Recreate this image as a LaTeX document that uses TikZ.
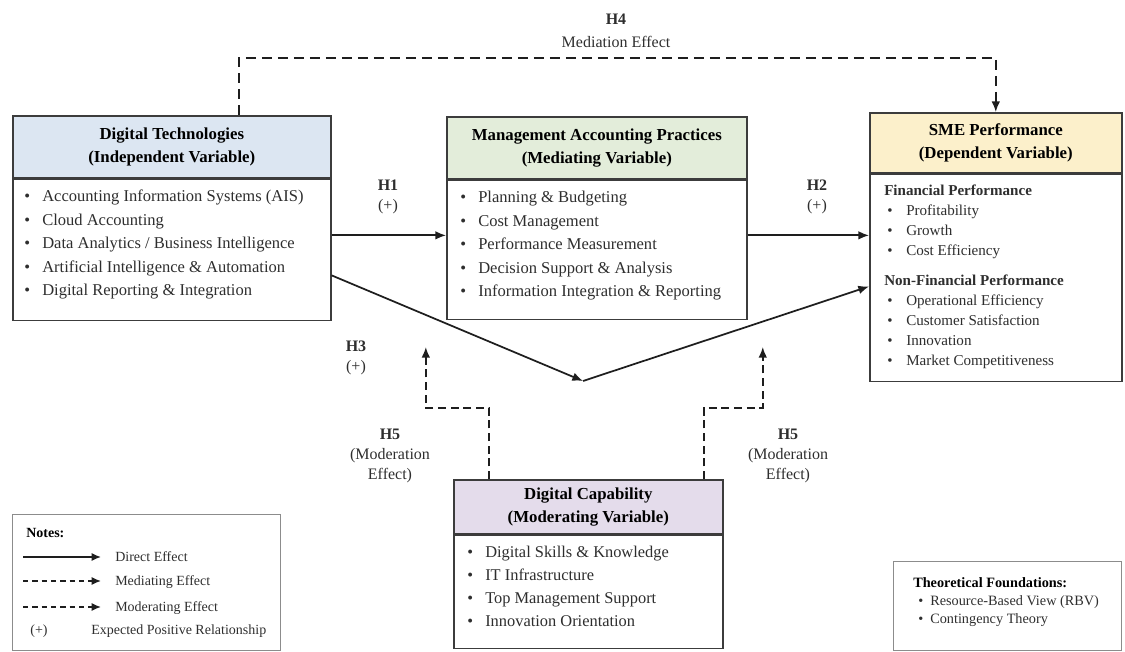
\documentclass[tikz,border=0pt]{standalone}
\usepackage{fontspec}
\setmainfont{Liberation Serif}
\usetikzlibrary{arrows.meta,calc}
\definecolor{bd}{HTML}{3C3C3C}
\definecolor{lbd}{HTML}{8C8C8C}
\definecolor{txt}{HTML}{2E2E2E}
\definecolor{ar}{HTML}{1E1E1E}
\definecolor{cblue}{HTML}{DCE6F2}
\definecolor{cgreen}{HTML}{E3EDDA}
\definecolor{cyellow}{HTML}{FCF0CB}
\definecolor{cpurple}{HTML}{E4DCEB}
\newcommand\itm[1]{\makebox[13.5pt][l]{\textbullet}#1}
\newcommand\sitm[1]{\hspace{2.25pt}\makebox[14.25pt][l]{\textbullet}#1}
\newcommand\titm[1]{\hspace{3.75pt}\makebox[9pt][l]{\textbullet}#1}
\begin{document}
\begin{tikzpicture}[x=0.75pt,y=-0.75pt,
  hdr/.style={draw=bd, line width=1.2pt, anchor=north west, inner sep=0, align=center,
    text=black, font=\bfseries\fontsize{12.6}{17.5}\selectfont},
  bodybox/.style={draw=bd, line width=1.2pt, anchor=north west, inner sep=0, fill=white},
  lst/.style={anchor=base west, inner sep=0, text=txt},
  notebox/.style={draw=lbd, line width=0.8pt, anchor=north west, inner sep=0},
  arr/.style={line width=1.3pt, draw=ar, -{Latex[length=8pt,width=6.5pt]}},
  medarr/.style={arr, dash pattern=on 7.5pt off 4.5pt},
  modarr/.style={arr, dash pattern=on 6pt off 3.5pt},
  larr/.style={line width=1.1pt, draw=ar, -{Latex[length=7pt,width=6pt]}},
  ldarr/.style={larr, dash pattern=on 4pt off 3pt},
  lbl/.style={align=center, text=txt, font=\fontsize{12}{15}\selectfont},
  ntxt/.style={anchor=base west, inner sep=0, text=txt, font=\fontsize{10.5}{13}\selectfont}
]
\useasboundingbox (0,0) rectangle (1125,652);

% ---------- Digital Technologies ----------
\node[hdr, fill=cblue, minimum width=238.5pt, minimum height=46.5pt] (dth) at (12,115)
  {Digital Technologies\\(Independent Variable)};
\node[bodybox, minimum width=238.5pt, minimum height=105.75pt] (dtb) at (dth.south west) {};
\node[lst] (dtl) at (24,202) {\fontsize{12.4}{17.6}\selectfont\begin{tabular}[t]{@{}l@{}}
\itm{Accounting Information Systems (AIS)}\\
\itm{Cloud Accounting}\\
\itm{Data Analytics / Business Intelligence}\\
\itm{Artificial Intelligence \& Automation}\\
\itm{Digital Reporting \& Integration}
\end{tabular}};

% ---------- Management Accounting Practices ----------
\node[hdr, fill=cgreen, minimum width=225pt, minimum height=46.5pt] (maph) at (446,116)
  {Management Accounting Practices\\(Mediating Variable)};
\node[bodybox, minimum width=225pt, minimum height=104.25pt] (mapb) at (maph.south west) {};
\node[lst] (mapl) at (460,203) {\fontsize{12.4}{17.6}\selectfont\begin{tabular}[t]{@{}l@{}}
\itm{Planning \& Budgeting}\\
\itm{Cost Management}\\
\itm{Performance Measurement}\\
\itm{Decision Support \& Analysis}\\
\itm{Information Integration \& Reporting}
\end{tabular}};

% ---------- SME Performance ----------
\node[hdr, fill=cyellow, minimum width=189pt, minimum height=45pt] (smeh) at (869,112)
  {SME Performance\\(Dependent Variable)};
\node[bodybox, minimum width=189pt, minimum height=155.25pt] (smeb) at (smeh.south west) {};
\node[lst] (smef) at (884,196) {\fontsize{11.3}{15}\selectfont\begin{tabular}[t]{@{}l@{}}
\textbf{Financial Performance}\\
\sitm{Profitability}\\
\sitm{Growth}\\
\sitm{Cost Efficiency}
\end{tabular}};
\node[lst] (smen) at (884,286) {\fontsize{11.3}{15}\selectfont\begin{tabular}[t]{@{}l@{}}
\textbf{Non-Financial Performance}\\
\sitm{Operational Efficiency}\\
\sitm{Customer Satisfaction}\\
\sitm{Innovation}\\
\sitm{Market Competitiveness}
\end{tabular}};

% ---------- Digital Capability ----------
\node[hdr, fill=cpurple, minimum width=201.75pt, minimum height=40.5pt] (dch) at (453,479)
  {Digital Capability\\(Moderating Variable)};
\node[bodybox, minimum width=201.75pt, minimum height=84.75pt] (dcb) at (dch.south west) {};
\node[lst] (dcl) at (467,557) {\fontsize{12.3}{17.4}\selectfont\begin{tabular}[t]{@{}l@{}}
\itm{Digital Skills \& Knowledge}\\
\itm{IT Infrastructure}\\
\itm{Top Management Support}\\
\itm{Innovation Orientation}
\end{tabular}};

% ---------- Direct and moderated paths ----------
\draw[arr] ([yshift=10.9pt]dtb.east) coordinate (h1a) -- (h1a -| mapb.west);
\draw[arr] ([yshift=10.9pt]mapb.east) coordinate (h2a) -- (h2a -| smeb.west);
\coordinate (v) at (583,381);
\draw[arr] ([yshift=-19.1pt]dtb.east) -- (v);
\draw[arr] (v) -- ([yshift=-6.4pt]smeb.west);

% ---------- Mediation path H4 ----------
\draw[medarr] ([xshift=50.25pt]dth.north) -- ++(0,-57) -| (smeh.north);

% ---------- Moderation paths H5 ----------
\draw[modarr] ([xshift=-74.6pt]dch.north) -- ++(0,-71) -- ++(-63,0) -- ++(0,-61) coordinate (m1);
\draw[modarr] ([xshift=86.6pt]dch.north) -- ++(0,-71) -- ++(59,0) -- ++(0,-61) coordinate (m2);

% ---------- Labels ----------
\node[lbl] (h1l) at (388,196.5) {\textbf{H1}\\(+)};
\node[lbl] (h2l) at (817,196.5) {\textbf{H2}\\(+)};
\node[lbl] (h3l) at (356,358) {\textbf{H3}\\(+)};
\node[lbl, font=\fontsize{12}{17}\selectfont] (h4l) at (616,31) {\textbf{H4}\\Mediation Effect};
\node[lbl] (h5a) at (390,456) {\textbf{H5}\\(Moderation\\Effect)};
\node[lbl] (h5b) at (788,456) {\textbf{H5}\\(Moderation\\Effect)};

% ---------- Notes ----------
\node[notebox, minimum width=201pt, minimum height=102pt] (notes) at (12,514) {};
\node[ntxt, font=\bfseries\fontsize{10.5}{13}\selectfont, text=black] (nt) at (26,537) {Notes:};
\coordinate (l1a) at (23,557); \coordinate (l1b) at (101,557);
\coordinate (l2a) at (23,581); \coordinate (l2b) at (101,581);
\coordinate (l3a) at (23,607); \coordinate (l3b) at (101,607);
\draw[larr] (l1a) -- (l1b);
\draw[ldarr] (l2a) -- (l2b);
\draw[ldarr] (l3a) -- (l3b);
\node[ntxt] (n1) at (115,561) {Direct Effect};
\node[ntxt] (n2) at (115,585) {Mediating Effect};
\node[ntxt] (n3) at (115,611) {Moderating Effect};
\node[ntxt, anchor=base] (n4a) at (39,634) {(+)};
\node[ntxt] (n4) at (91,634) {Expected Positive Relationship};

% ---------- Theoretical Foundations ----------
\node[notebox, minimum width=171pt, minimum height=66.75pt] (theo) at (893,561) {};
\node[lst] (theol) at (913,587) {\fontsize{10.7}{13.5}\selectfont\begin{tabular}[t]{@{}l@{}}
\textbf{\color{black}Theoretical Foundations:}\\
\titm{Resource-Based View (RBV)}\\
\titm{Contingency Theory}
\end{tabular}};
\end{tikzpicture}
\end{document}
